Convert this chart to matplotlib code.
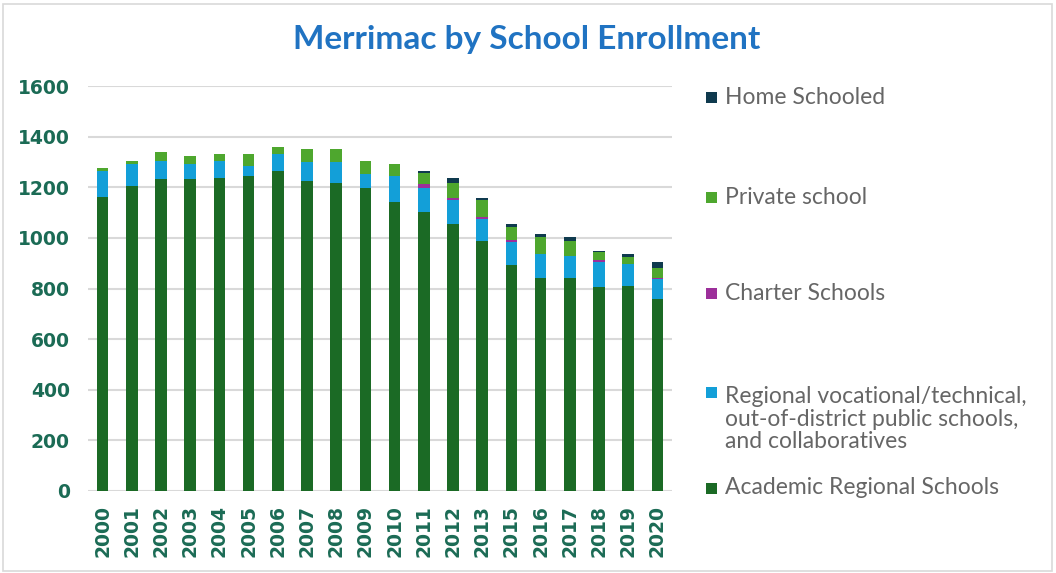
import matplotlib
matplotlib.use("Agg")
import matplotlib.pyplot as plt
from matplotlib.patches import Rectangle
import numpy as np

years = ['2000', '2001', '2002', '2003', '2004', '2005', '2006', '2007', '2008', '2009',
         '2010', '2011', '2012', '2013', '2015', '2016', '2017', '2018', '2019', '2020']
academic = [1163, 1203, 1231, 1231, 1237, 1244, 1264, 1224, 1217, 1197,
            1143, 1102, 1054, 988, 891, 843, 843, 804, 810, 757]
regional = [101, 89, 74, 61, 68, 41, 68, 75, 82, 55,
            101, 95, 96, 86, 94, 94, 86, 99, 87, 80]
charter = [0, 0, 0, 0, 0, 0, 0, 0, 0, 0,
           0, 14, 6, 8, 7, 0, 0, 8, 0, 6]
private = [12, 13, 34, 33, 27, 47, 28, 53, 53, 53,
           48, 47, 62, 68, 51, 65, 60, 33, 26, 39]
home = [0, 0, 0, 0, 0, 0, 0, 0, 0, 0,
        0, 7, 19, 6, 13, 14, 13, 6, 14, 21]

series_names = ['Academic Regional Schools',
                'Regional vocational/technical,\nout-of-district public schools,\nand collaboratives',
                'Charter Schools', 'Private school', 'Home Schooled']
series_values = [academic, regional, charter, private, home]
colors = ['#1B6A25', '#139FD8', '#9C2F9A', '#4EA72E', '#0F3A4E']

tick_color = '#1B6B55'
title_color = '#2073C2'
legend_text_color = '#666666'

fig = plt.figure(figsize=(10.56, 5.73), dpi=100)
ax = fig.add_axes([88 / 1056, 1 - 491 / 573, (672 - 88) / 1056, (491 - 86) / 573])

x = np.arange(len(years))
bottom = np.zeros(len(years))
for vals, col in zip(series_values, colors):
    v = np.array(vals, dtype=float)
    ax.bar(x, v, width=0.4, bottom=bottom, color=col, zorder=3)
    bottom += v

ax.set_xlim(-0.5, len(years) - 0.5)
ax.set_ylim(0, 1600)
ax.set_yticks(np.arange(0, 1601, 200))
ax.yaxis.grid(True, color='#D9D9D9', linewidth=1.5, zorder=0)
ax.set_axisbelow(True)
for s in ax.spines.values():
    s.set_visible(False)
ax.tick_params(axis='both', length=0)
ax.tick_params(axis='y', pad=13)
ax.tick_params(axis='x', pad=10)
ax.set_xticks(x)
ax.set_xticklabels(years, rotation=90)
for lab in ax.get_xticklabels() + ax.get_yticklabels():
    lab.set_fontfamily('DejaVu Sans')
    lab.set_fontweight('bold')
    lab.set_fontsize(13.5)
    lab.set_color(tick_color)

fig.text(527 / 1056, 1 - 39 / 573, 'Merrimac by School Enrollment', ha='center', va='center',
         fontsize=24, fontweight='bold', fontfamily='Lato', color=title_color)

# Legend (drawn manually to follow the reference spacing)
legend_y = [488, 419, 293, 197, 98]
marker_y = [488, 392, 293, 197, 98]
for name, col, ty, my in zip(series_names, colors, legend_y, marker_y):
    fig.patches.append(Rectangle((706 / 1056, 1 - (my + 5.5) / 573), 11 / 1056, 11 / 573,
                                 transform=fig.transFigure, facecolor=col, edgecolor='none'))
    fig.text(725 / 1056, 1 - ty / 573, name, ha='left', va='center', fontsize=16.5,
             fontfamily='Lato', color=legend_text_color, linespacing=1.1)

fig.patches.append(Rectangle((3 / 1056, 2 / 573), 1049 / 1056, 567 / 573, transform=fig.transFigure,
                             facecolor='none', edgecolor='#D9D9D9', linewidth=1.2))

fig.savefig('out.png', dpi=100)
